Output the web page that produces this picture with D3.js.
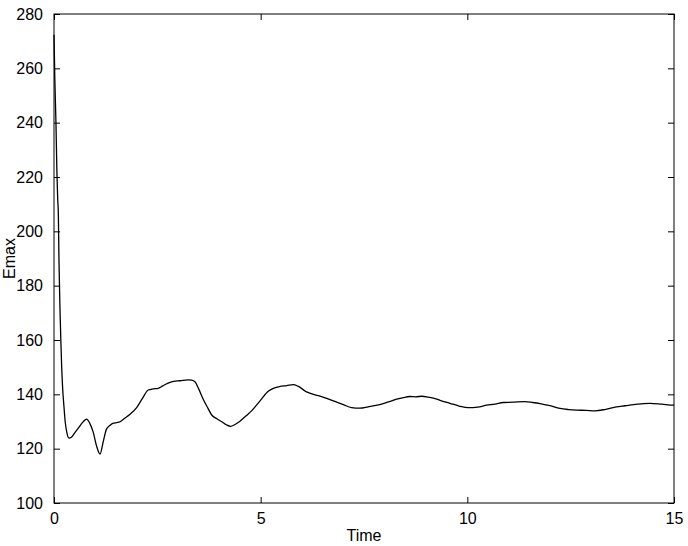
<!DOCTYPE html>
<html><head><meta charset="utf-8">
<script src="https://cdn.jsdelivr.net/npm/d3@7"></script>
<style>body{margin:0;background:#fff}svg{display:block}text{font-family:"Liberation Sans",Arial,sans-serif;fill:#000}</style>
</head><body>
<svg id="c" width="688" height="546"></svg>
<script>
const time = [0,0.02,0.048,0.07,0.09,0.105,0.12,0.145,0.165,0.185,0.21,0.24,0.27,0.31,0.36,0.42,0.51,0.6,0.7,0.79,0.86,0.95,1.03,1.113,1.19,1.27,1.35,1.435,1.52,1.6,1.72,1.84,2.0,2.14,2.28,2.4,2.52,2.62,2.73,2.89,3.05,3.25,3.33,3.41,3.5,3.61,3.72,3.82,3.94,4.06,4.17,4.27,4.38,4.5,4.64,4.78,4.98,5.19,5.32,5.47,5.63,5.79,5.9,6.11,6.4,6.76,7.0,7.2,7.4,7.6,7.82,8.05,8.29,8.45,8.61,8.75,8.9,9.05,9.18,9.34,9.58,9.8,10.02,10.25,10.47,10.67,10.87,11.1,11.39,11.58,11.76,12.0,12.24,12.45,12.65,12.87,13.09,13.35,13.61,13.82,14.02,14.22,14.42,14.7,14.98,15.0];
const emax = [272.4,256,239.6,222,211.7,206.5,189.6,171.3,160,150.4,142,135.7,130,126,123.9,124.2,126,127.8,129.8,130.9,129.5,126,121,118.0,122.5,127.2,128.5,129.4,129.6,129.9,131.3,132.7,135.1,138.5,141.6,142.0,142.2,143.0,143.9,144.8,145.0,145.3,145.2,144.6,142,138.2,135,132.3,131,129.9,128.8,128.2,128.9,130.1,132,133.9,137.5,141.2,142.3,142.9,143.2,143.6,143,140.9,139.5,137.6,136.2,135.1,134.9,135.4,136,137.0,138.2,138.8,139.2,139.1,139.3,139.0,138.6,137.8,136.7,135.7,135.1,135.3,136.0,136.4,137.0,137.1,137.3,137.0,136.6,135.8,134.8,134.4,134.2,134.1,133.9,134.5,135.4,135.8,136.2,136.5,136.7,136.4,136.0,136.0];
const xTicks = [0,5,10,15];
const yTicks = [100,120,140,160,180,200,220,240,260,280];

const svg = d3.select("#c");
const L=54,R=674,T=14,B=503;
const x = d3.scaleLinear().domain([0,15]).range([L,R]);
const y = d3.scaleLinear().domain([100,280]).range([B,T]);

// frame
svg.append("rect").attr("x",L).attr("y",T).attr("width",R-L).attr("height",B-T)
  .attr("fill","none").attr("stroke","#000").attr("stroke-width",1);

const fmt = d3.format("d");
// bottom axis
const gb = svg.append("g").attr("transform",`translate(0,${B})`)
  .call(d3.axisBottom(x).tickValues(xTicks).tickFormat(fmt).tickSizeInner(-6).tickSizeOuter(0).tickPadding(10));
// top ticks
const gt = svg.append("g").attr("transform",`translate(0,${T})`)
  .call(d3.axisTop(x).tickValues(xTicks).tickFormat("").tickSizeInner(-6).tickSizeOuter(0));
// left axis
const gl = svg.append("g").attr("transform",`translate(${L},0)`)
  .call(d3.axisLeft(y).tickValues(yTicks).tickFormat(fmt).tickSizeInner(-6).tickSizeOuter(0).tickPadding(11));
// right ticks
const gr = svg.append("g").attr("transform",`translate(${R},0)`)
  .call(d3.axisRight(y).tickValues(yTicks).tickFormat("").tickSizeInner(-6).tickSizeOuter(0));
[gb,gt,gl,gr].forEach(g=>{
  g.select(".domain").remove();
  g.selectAll("line").attr("stroke","#000");
  g.selectAll("text").style("font-family",'"Liberation Sans",Arial,sans-serif').style("font-size","16px").attr("fill","#000");
});

// line
svg.append("path").datum(time.map((t,i)=>[t,emax[i]]))
  .attr("fill","none").attr("stroke","#000").attr("stroke-width",1.3)
  .attr("d", d3.line().x(d=>x(d[0])).y(d=>y(d[1])).curve(d3.curveMonotoneX));

// labels
svg.append("text").attr("x",(L+R)/2).attr("y",541).attr("text-anchor","middle").style("font-size","16px").text("Time");
svg.append("text").attr("transform",`translate(15,${(T+B)/2}) rotate(-90)`).attr("text-anchor","middle").style("font-size","16px").text("Emax");
</script>
</body></html>
